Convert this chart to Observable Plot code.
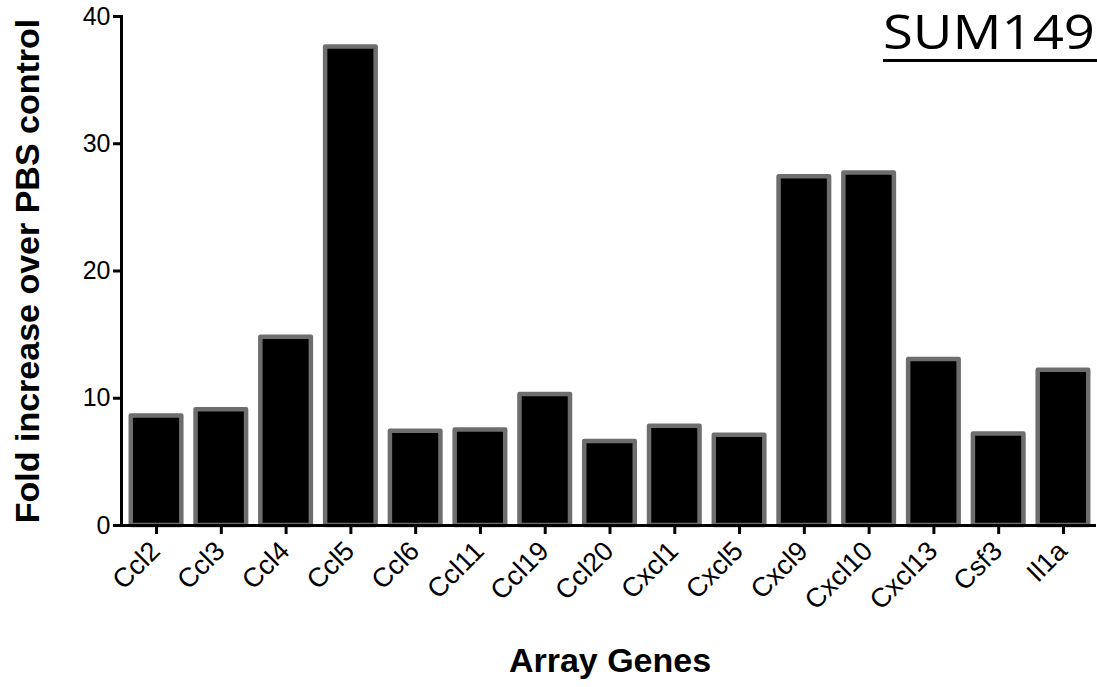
<!DOCTYPE html>
<html>
<head>
<meta charset="utf-8">
<script src="https://cdn.jsdelivr.net/npm/d3@7"></script>
<script src="https://cdn.jsdelivr.net/npm/@observablehq/plot@0.6"></script>
<style>
  html, body { margin: 0; padding: 0; background: white; }
</style>
</head>
<body>
<div id="chart"></div>
<script>
const genes = ["Ccl2","Ccl3","Ccl4","Ccl5","Ccl6","Ccl11","Ccl19","Ccl20","Cxcl1","Cxcl5","Cxcl9","Cxcl10","Cxcl13","Csf3","Il1a"];
const values = [8.6, 9.1, 14.8, 37.6, 7.4, 7.5, 10.3, 6.6, 7.8, 7.1, 27.4, 27.7, 13.05, 7.2, 12.2];
const yTicks = [0, 10, 20, 30, 40];
const yLabel = "Fold increase over PBS control";
const xLabel = "Array Genes";
const title = "SUM149";

const data = genes.map((g, i) => ({gene: g, value: values[i]}));

const chart = Plot.plot({
  width: 1097,
  height: 687,
  marginLeft: 123,
  marginRight: 1,
  marginTop: 16,
  marginBottom: 162,
  style: {fontFamily: "'Liberation Sans', Arial, sans-serif", background: "white", color: "black", overflow: "visible"},
  x: {domain: genes, paddingInner: 0.22, paddingOuter: 0.12, round: false, label: null},
  y: {domain: [0, 40], label: null},
  marks: [
    Plot.barY(data, {x: "gene", y: "value", fill: "black", stroke: "#6e6e6e", strokeWidth: 4.5, strokeLinejoin: "round"}),
    Plot.ruleY([0], {stroke: "black", strokeWidth: 3}),
    Plot.axisX({tickSize: 9, strokeWidth: 3, tickRotate: -45, tickPadding: 5, label: null}),
    Plot.axisY({ticks: yTicks, tickSize: 10, strokeWidth: 3, tickPadding: 3, label: null}),
    Plot.text([yLabel], {text: d => d, frameAnchor: "left", textAnchor: "middle", rotate: -90, dx: -95, fontSize: 34, fontWeight: "bold"}),
    Plot.text([xLabel], {text: d => d, frameAnchor: "bottom", textAnchor: "middle", dy: 146, fontSize: 34, fontWeight: "bold"})
  ]
});

const svg = d3.select(chart);
// tick label sizes and offsets
svg.selectAll("g[aria-label='x-axis tick label']").style("font-size", "27px").attr("font-size", 27);
svg.selectAll("g[aria-label='x-axis tick label'] text").style("font-size", "27px")
  .each(function() {
    const t = this.getAttribute("transform") || "";
    this.setAttribute("transform", "translate(-1,7) " + t);
  });
svg.selectAll("g[aria-label='y-axis tick label']").style("font-size", "25px").attr("font-size", 25);
svg.selectAll("g[aria-label='y-axis tick label'] text").style("font-size", "25px");

// y axis spine from the library's y scale
const ys = chart.scale("y");
svg.append("line")
  .attr("x1", 121.5).attr("x2", 121.5)
  .attr("y1", ys.apply(0) + 1.5).attr("y2", ys.apply(40))
  .attr("stroke", "black").attr("stroke-width", 3);

// title
svg.append("text")
  .attr("x", 883).attr("y", 49)
  .attr("text-anchor", "start")
  .attr("font-family", "'Open Sans', Lato, sans-serif")
  .attr("font-size", 47)
  .attr("textLength", 212)
  .attr("lengthAdjust", "spacingAndGlyphs")
  .attr("fill", "black")
  .text(title);
svg.append("line")
  .attr("x1", 883).attr("x2", 1097).attr("y1", 60.5).attr("y2", 60.5)
  .attr("stroke", "black").attr("stroke-width", 3);

document.getElementById("chart").appendChild(chart);
</script>
</body>
</html>
